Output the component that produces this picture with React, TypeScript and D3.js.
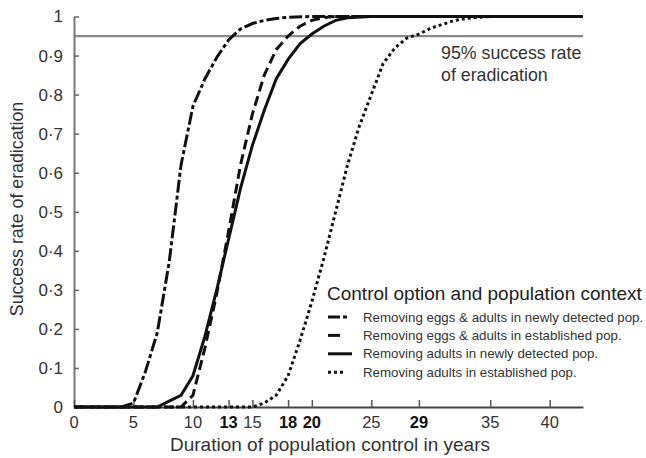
import { useRef, useEffect } from "react";
import * as d3 from "d3";

// years of control (x) and success rate (y) for each scenario
const eggsNewYears = [0, 4, 5, 6, 7, 8, 9, 10, 11, 12, 13, 14, 15, 16, 17, 18, 20, 42.8];
const eggsNewRate = [0, 0, 0.01, 0.09, 0.19, 0.37, 0.62, 0.77, 0.84, 0.895, 0.94, 0.968, 0.982, 0.99, 0.995, 0.998, 1, 1];

const eggsEstYears = [0, 9, 10, 11, 12, 13, 14, 15, 16, 17, 18, 19, 20, 21, 22, 42.8];
const eggsEstRate = [0, 0, 0.03, 0.15, 0.29, 0.45, 0.62, 0.75, 0.85, 0.915, 0.95, 0.975, 0.99, 0.997, 1, 1];

const adultsNewYears = [0, 7, 8, 9, 10, 11, 12, 13, 14, 15, 16, 17, 18, 19, 20, 21, 22, 23, 25, 42.8];
const adultsNewRate = [0, 0, 0.015, 0.03, 0.08, 0.18, 0.3, 0.43, 0.56, 0.67, 0.76, 0.84, 0.89, 0.93, 0.955, 0.975, 0.99, 0.997, 1, 1];

const adultsEstYears = [0, 15, 16, 17, 18, 19, 20, 21, 22, 23, 24, 25, 26, 27, 28, 29, 30, 31, 32, 33, 35, 42.8];
const adultsEstRate = [0, 0, 0.01, 0.03, 0.08, 0.17, 0.27, 0.38, 0.5, 0.62, 0.72, 0.8, 0.88, 0.92, 0.945, 0.955, 0.97, 0.98, 0.99, 0.995, 1, 1];

const seriesLabels = [
    "Removing eggs & adults in newly detected pop.",
    "Removing eggs & adults in established pop.",
    "Removing adults in newly detected pop.",
    "Removing adults in established pop.",
];
const seriesDash = ["13,3,4,3", "10,5", "none", "3,3"];

const xTicks = [0, 5, 10, 13, 15, 18, 20, 25, 29, 35, 40];
const boldTicks = [13, 18, 20, 29];
const yTicks = [0, 0.1, 0.2, 0.3, 0.4, 0.5, 0.6, 0.7, 0.8, 0.9, 1];
const threshold = 0.95;

const FONT = "'Liberation Sans', Arial, sans-serif";

export default function App() {
    const svgRef = useRef<SVGSVGElement | null>(null);

    useEffect(() => {
        if (!svgRef.current) return;
        const svg = d3.select(svgRef.current);
        svg.selectAll("*").remove();

        const xScale = d3.scaleLinear().domain([0, 42.8]).range([74, 583]);
        const yScale = d3.scaleLinear().domain([0, 1]).range([407, 16.5]);

        const series = [
            d3.zip(eggsNewYears, eggsNewRate),
            d3.zip(eggsEstYears, eggsEstRate),
            d3.zip(adultsNewYears, adultsNewRate),
            d3.zip(adultsEstYears, adultsEstRate),
        ];

        // threshold line
        svg.append("line")
            .attr("x1", xScale(0)).attr("x2", xScale(42.8))
            .attr("y1", yScale(threshold)).attr("y2", yScale(threshold))
            .attr("stroke", "#8a8a8a").attr("stroke-width", 2.2);

        // y axis, ticks inside
        const yAxis = d3.axisRight(yScale)
            .tickValues(yTicks)
            .tickSize(5)
            .tickSizeOuter(0)
            .tickFormat(() => "");
        const gy = svg.append("g")
            .attr("transform", `translate(${xScale(0)},0)`)
            .call(yAxis);
        gy.select(".domain").attr("stroke", "#777").attr("stroke-width", 2);
        gy.selectAll(".tick line").attr("stroke", "#666").attr("stroke-width", 1.5);

        svg.append("g").selectAll("text")
            .data(yTicks)
            .join("text")
            .attr("x", 63)
            .attr("y", (d: number) => yScale(d))
            .attr("dy", "0.35em")
            .attr("text-anchor", "end")
            .attr("font-family", FONT)
            .attr("font-size", 17)
            .attr("fill", "#333")
            .text((d: number) => (d === 0 || d === 1 ? String(d) : d.toFixed(1).replace(".", "·")));

        // x axis, ticks inside
        const xAxis = d3.axisTop(xScale)
            .tickValues(xTicks)
            .tickSize(7)
            .tickSizeOuter(0)
            .tickFormat(() => "");
        const gx = svg.append("g")
            .attr("transform", `translate(0,${yScale(0)})`)
            .call(xAxis);
        gx.select(".domain").attr("stroke", "#444").attr("stroke-width", 2);
        gx.selectAll(".tick line").attr("stroke", "#555").attr("stroke-width", 1.5);

        svg.append("g").selectAll("text")
            .data(xTicks)
            .join("text")
            .attr("x", (d: number) => xScale(d))
            .attr("y", 428)
            .attr("text-anchor", "middle")
            .attr("font-family", FONT)
            .attr("font-size", 16.5)
            .attr("font-weight", (d: number) => (boldTicks.includes(d) ? "bold" : "normal"))
            .attr("fill", (d: number) => (boldTicks.includes(d) ? "#111" : "#333"))
            .text((d: number) => d);

        // curves
        const line = d3.line<[number, number]>()
            .x((d) => xScale(d[0]))
            .y((d) => yScale(d[1]));

        svg.append("g").selectAll("path")
            .data(series)
            .join("path")
            .attr("d", (d: any) => line(d))
            .attr("fill", "none")
            .attr("stroke", "#111")
            .attr("stroke-width", 3)
            .attr("stroke-dasharray", (_d: any, i: number) => seriesDash[i]);

        // threshold note
        const note = svg.append("text")
            .attr("font-family", FONT)
            .attr("font-size", 17.8)
            .attr("fill", "#333");
        note.append("tspan").attr("x", 441).attr("y", 59).text("95% success rate");
        note.append("tspan").attr("x", 441).attr("y", 81).text("of eradication");

        // axis titles
        svg.append("text")
            .attr("x", 330).attr("y", 451)
            .attr("text-anchor", "middle")
            .attr("font-family", FONT)
            .attr("font-size", 19)
            .attr("fill", "#333")
            .text("Duration of population control in years");

        svg.append("text")
            .attr("transform", `translate(23,209) rotate(-90)`)
            .attr("text-anchor", "middle")
            .attr("font-family", FONT)
            .attr("font-size", 17.8)
            .attr("fill", "#333")
            .text("Success rate of eradication");

        // legend
        const legend = svg.append("g");
        legend.append("text")
            .attr("x", 327).attr("y", 300)
            .attr("font-family", FONT)
            .attr("font-size", 19)
            .attr("fill", "#222")
            .text("Control option and population context");

        const rows = legend.selectAll("g.row")
            .data(seriesLabels)
            .join("g")
            .attr("class", "row")
            .attr("transform", (_d: string, i: number) => `translate(0,${321.5 + i * 18.4})`);

        const sampleEnd = [347, 340, 352, 346];
        rows.append("line")
            .attr("x1", 328)
            .attr("x2", (_d: string, i: number) => sampleEnd[i])
            .attr("y1", -4.5).attr("y2", -4.5)
            .attr("stroke", "#111")
            .attr("stroke-width", 3)
            .attr("stroke-dasharray", (_d: string, i: number) => (i === 0 ? "12,3,5,3" : i === 1 ? "12,5" : seriesDash[i]));

        rows.append("text")
            .attr("x", 363)
            .attr("y", 0)
            .attr("font-family", FONT)
            .attr("font-size", 13.3)
            .attr("fill", "#333")
            .text((d: string) => d);
    }, []);

    return (
        <div style={{ position: "absolute", left: 0, top: 0, width: 646, height: 458, background: "#fff" }}>
            <svg ref={svgRef} width={646} height={458}></svg>
        </div>
    );
}
